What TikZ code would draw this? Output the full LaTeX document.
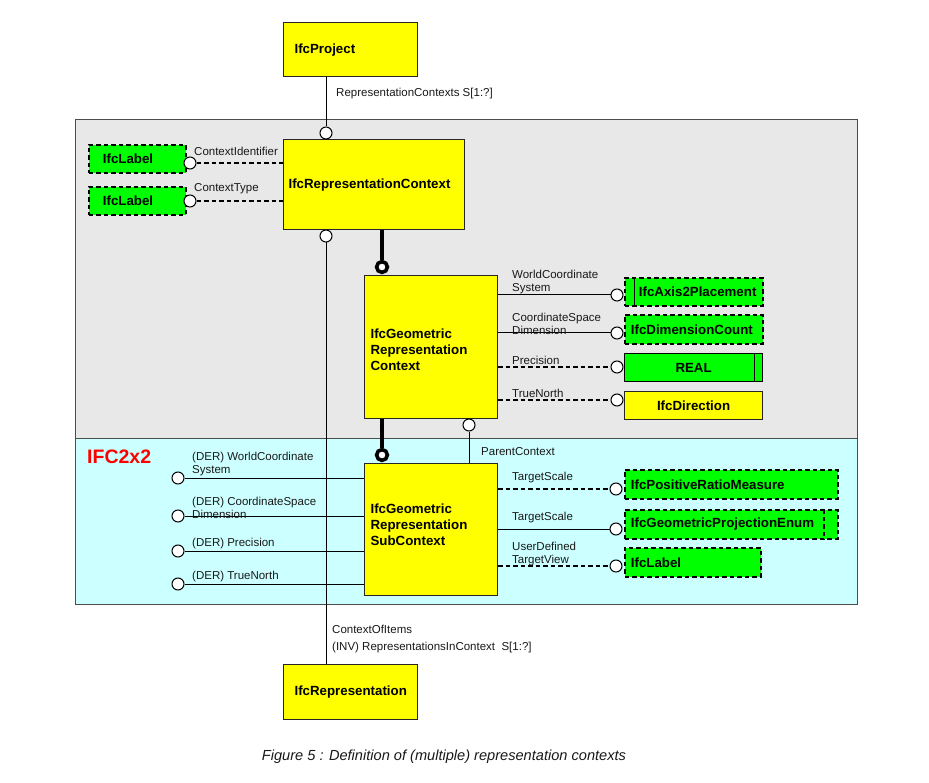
\documentclass[tikz,border=0pt]{standalone}
\usepackage{fontspec}
\setmainfont{Liberation Sans}
\definecolor{greyback}{RGB}{232,232,232}
\definecolor{cyanback}{RGB}{204,255,255}
\definecolor{ifcgreen}{RGB}{0,255,0}
\definecolor{ifcyellow}{RGB}{255,255,0}
\definecolor{ifcred}{RGB}{255,0,0}
\definecolor{lbltext}{RGB}{25,25,25}
\begin{document}
\begin{tikzpicture}[x=1pt,y=-1pt,
  lbl/.style={font=\fontsize{11.5}{13}\selectfont, text=lbltext, inner sep=0pt, align=left, anchor=west},
  cls/.style={draw=black!85, line width=1.2pt, fill=ifcyellow, font=\bfseries\fontsize{13.3}{16}\selectfont, inner ysep=0pt, anchor=north west, align=left},
  typ/.style={cls, fill=ifcgreen, draw=black, line width=1.8pt, dash pattern=on 4.5pt off 3pt},
  solidtyp/.style={cls, fill=ifcgreen, draw=black, line width=1.2pt},
  circ/.style={circle, draw=black, fill=white, minimum size=12pt, inner sep=0pt, line width=1pt},
  tcirc/.style={circle, draw=black, fill=white, minimum size=10.8pt, inner sep=0pt, line width=3.6pt},
  conn/.style={draw=black, line width=1pt},
  dconn/.style={draw=black, line width=1.8pt, dash pattern=on 4.5pt off 3pt},
  tconn/.style={draw=black, line width=4pt}
]
\useasboundingbox (0,0) rectangle (929,783);
\fill[white] (0,0) rectangle (929,783);

% regions
\draw[fill=greyback, draw=black!70, line width=1pt] (75,120) rectangle (857,438);
\draw[fill=cyanback, draw=black!70, line width=1pt] (75,438) rectangle (857,604);

% entity boxes
\node[cls, text width=112pt, inner xsep=11pt, minimum height=54pt] (proj) at (283,22) {IfcProject};
\node[cls, text width=171pt, inner xsep=5pt, minimum height=90pt] (rc) at (283,139) {IfcRepresentationContext};
\node[cls, text width=121pt, inner xsep=6pt, minimum height=143pt] (gc) at (364,275) {};
\node[cls, text width=121pt, inner xsep=6pt, minimum height=132pt] (sc) at (364,463) {IfcGeometric\\Representation\\SubContext\\[-6pt]\mbox{}};
\node[cls, text width=112pt, inner xsep=11pt, minimum height=55pt] (rep) at (283,664) {IfcRepresentation};
\node[cls, draw=none, fill=none, anchor=west, inner xsep=0pt] (gctext) at ([xshift=6pt, yshift=-3pt]gc.west) {IfcGeometric\\Representation\\Context};

% type boxes
\node[typ, text width=69pt, inner xsep=14pt, minimum height=28pt] (lab1) at (88,144) {IfcLabel};
\node[typ, text width=69pt, inner xsep=14pt, minimum height=28pt] (lab2) at (88,186) {IfcLabel};
\node[typ, text width=110pt, inner xsep=14pt, minimum height=28pt] (ax) at (624,277) {IfcAxis2Placement};
\node[typ, text width=126pt, inner xsep=6pt, minimum height=29pt] (dim) at (624,314) {IfcDimensionCount};
\node[solidtyp, text width=126pt, inner xsep=6pt, minimum height=28pt, align=center] (real) at (624,353) {REAL\hspace*{9pt}};
\node[cls, text width=126pt, inner xsep=6pt, minimum height=28pt, align=center] (dir) at (624,391) {IfcDirection};
\node[typ, text width=201pt, inner xsep=6pt, minimum height=29pt] (prm) at (624,469) {IfcPositiveRatioMeasure};
\node[typ, text width=201pt, inner xsep=6pt, minimum height=29pt] (gpe) at (624,509) {IfcGeometricProjectionEnum};
\node[typ, text width=124pt, inner xsep=6pt, minimum height=29pt] (lab3) at (624,547) {IfcLabel};

% inner bars
\draw[line width=1pt] ([xshift=10pt]ax.north west) -- ([xshift=10pt]ax.south west);
\draw[line width=1.2pt] ([xshift=-9pt]real.north east) -- ([xshift=-9pt]real.south east);
\draw[line width=1.5pt, dash pattern=on 4.5pt off 3pt] ([xshift=-15pt]gpe.north east) -- ([xshift=-15pt]gpe.south east);

% circles
\node[circ] (c1) at (326,133) {};
\node[circ] (c2) at (326,236) {};
\node[circ] (ci1) at (190,163) {};
\node[circ] (ci2) at (190,201) {};
\node[circ] (r1) at (617,295) {};
\node[circ] (r2) at (617,333) {};
\node[circ] (r3) at (617,367) {};
\node[circ] (r4) at (617,400) {};
\node[circ] (pc) at (469,425) {};
\node[circ] (s1) at (616,489) {};
\node[circ] (s2) at (616,529) {};
\node[circ] (s3) at (616,566) {};
\node[circ] (l1) at (178,478) {};
\node[circ] (l2) at (178,516) {};
\node[circ] (l3) at (178,551) {};
\node[circ] (l4) at (178,584) {};
\node[tcirc] (t1) at (382,267) {};
\node[tcirc] (t2) at (382,455) {};

% connectors
\draw[conn] (c1 |- proj.south) -- (c1.north);
\draw[conn] (c2.south) -- (c2 |- rep.north);
\draw[tconn] (t1 |- rc.south) -- (t1.north);
\draw[tconn] (t2 |- gc.south) -- (t2.north);
\draw[conn] (pc.south) -- (pc |- sc.north);
\draw[dconn] (ci1.east) -- (ci1 -| rc.west);
\draw[dconn] (ci2.east) -- (ci2 -| rc.west);
\draw[conn] (r1 -| gc.east) -- (r1.west);
\draw[conn] (r2 -| gc.east) -- (r2.west);
\draw[dconn] (r3 -| gc.east) -- (r3.west);
\draw[dconn] (r4 -| gc.east) -- (r4.west);
\draw[dconn] (s1 -| sc.east) -- (s1.west);
\draw[conn] (s2 -| sc.east) -- (s2.west);
\draw[dconn] (s3 -| sc.east) -- (s3.west);
\draw[conn] (l1.east) -- (l1 -| sc.west);
\draw[conn] (l2.east) -- (l2 -| sc.west);
\draw[conn] (l3.east) -- (l3 -| sc.west);
\draw[conn] (l4.east) -- (l4 -| sc.west);

% labels
\node[lbl] (tRC) at (336,94) {RepresentationContexts S[1:?]};
\node[lbl] (tCI) at (194,151) {ContextIdentifier};
\node[lbl] (tCT) at (194,189) {ContextType};
\node[lbl] (tWCS) at (512,282) {WorldCoordinate\\System};
\node[lbl] (tCSD) at (512,324) {CoordinateSpace\\Dimension};
\node[lbl] (tPr) at (512,360) {Precision};
\node[lbl] (tTN) at (512,393) {TrueNorth};
\node[lbl] (tPC) at (481,452) {ParentContext};
\node[lbl] (tTS1) at (512,478) {TargetScale};
\node[lbl] (tTS2) at (512,518) {TargetScale};
\node[lbl] (tUD) at (512,554) {UserDefined\\TargetView};
\node[lbl] (tDW) at (192,464) {(DER) WorldCoordinate\\System};
\node[lbl] (tDC) at (192,508) {(DER) CoordinateSpace\\Dimension};
\node[lbl] (tDP) at (192,544) {(DER) Precision};
\node[lbl] (tDT) at (192,577) {(DER) TrueNorth};
\node[lbl] (tCO) at (332,629) {ContextOfItems};
\node[lbl] (tINV) at (332,648) {(INV) RepresentationsInContext\ \ S[1:?]};
\node[anchor=west, inner sep=0pt, text=ifcred, font=\bfseries\fontsize{19.5}{22}\selectfont] (tIFC) at (87,457) {IFC2x2};
\node[inner sep=0pt, text=lbltext, font=\itshape\fontsize{14.6}{17}\selectfont] (cap) at (444,757) {Figure 5 : Definition of (multiple) representation contexts};
\end{tikzpicture}
\end{document}
